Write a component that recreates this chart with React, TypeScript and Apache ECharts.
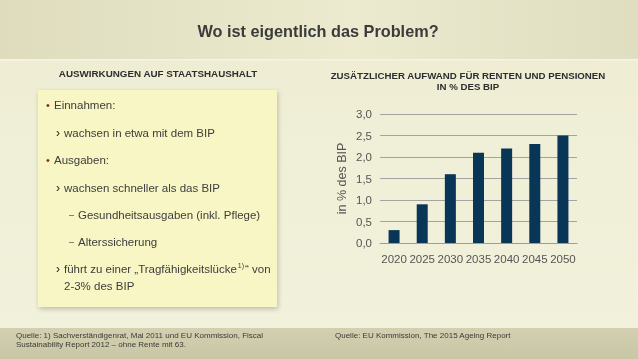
import React, { useEffect, useRef } from "react";
import * as echarts from "echarts";

const years = ["2020", "2025", "2030", "2035", "2040", "2045", "2050"];
const aufwand = [0.3, 0.9, 1.6, 2.1, 2.2, 2.3, 2.5];
const yTicks = { min: 0, max: 3, interval: 0.5 };

const pageTitle = "Wo ist eigentlich das Problem?";
const leftHeading = "AUSWIRKUNGEN AUF STAATSHAUSHALT";
const chartTitle = ["ZUSÄTZLICHER AUFWAND FÜR RENTEN UND PENSIONEN", "IN % DES BIP"];
const yAxisName = "in % des BIP";
const footLeft = [
  "Quelle: 1) Sachverständigenrat, Mai 2011 und EU Kommission, Fiscal",
  "Sustainability Report 2012 – ohne Rente mit 63.",
];
const footRight = "Quelle: EU Kommission, The 2015 Ageing Report";

const FONT = '"Liberation Sans", Arial, sans-serif';
const TXT = "#3d3d3d";

export default function App() {
  const ref = useRef<HTMLDivElement>(null);
  useEffect(() => {
    if (!ref.current) return;
    const chart = echarts.init(ref.current, undefined, { renderer: "svg" });

    const t = (text: string, x: number, y: number, size: number, extra: any = {}) => ({
      type: "text",
      x,
      y,
      z: 10,
      style: {
        text,
        fontSize: size,
        fontFamily: FONT,
        fill: TXT,
        textVerticalAlign: "middle",
        ...extra,
      },
    });

    const graphics: any[] = [
      {
        type: "rect",
        z: -10,
        shape: { x: 0, y: 0, width: 638, height: 359 },
        style: {
          fill: new echarts.graphic.LinearGradient(0, 0, 0, 1, [
            { offset: 0, color: "#eeedd3" },
            { offset: 1, color: "#f2f1dc" },
          ]),
        },
      },
      {
        type: "rect",
        z: -9,
        shape: { x: 0, y: 0, width: 638, height: 59 },
        style: {
          fill: new echarts.graphic.LinearGradient(0, 0, 1, 0, [
            { offset: 0, color: "#dedcbd" },
            { offset: 0.45, color: "#eae8cb" },
            { offset: 0.55, color: "#eceacf" },
            { offset: 1, color: "#e0dec0" },
          ]),
        },
      },
      {
        type: "rect",
        z: -8,
        shape: { x: 0, y: 59, width: 638, height: 1.5 },
        style: { fill: "#f6f5e4" },
      },
      {
        type: "rect",
        z: -9,
        shape: { x: 0, y: 328, width: 638, height: 31 },
        style: {
          fill: new echarts.graphic.LinearGradient(0, 0, 0, 1, [
            { offset: 0, color: "#d3d0b1" },
            { offset: 1, color: "#c9c6a6" },
          ]),
        },
      },
      {
        type: "rect",
        z: -5,
        shape: { x: 38, y: 90, width: 239, height: 217 },
        style: {
          fill: "#f8f6c4",
          shadowBlur: 5,
          shadowColor: "rgba(0,0,0,0.22)",
          shadowOffsetX: 1,
          shadowOffsetY: 2,
        },
      },
      t(pageTitle, 318, 31, 16.3, { fontWeight: "bold", textAlign: "center", fill: "#3b3b3b" }),
      t(leftHeading, 158, 73, 9.8, { fontWeight: "bold", textAlign: "center", fill: "#2e2e2e" }),
      t(chartTitle[0], 468, 75, 9.7, { fontWeight: "bold", textAlign: "center", fill: "#2e2e2e" }),
      t(chartTitle[1], 468, 86, 9.7, { fontWeight: "bold", textAlign: "center", fill: "#2e2e2e" }),
      // bullets
      t("•", 48, 105, 11, { textAlign: "center", fill: "#8a2c1c" }),
      t("Einnahmen:", 54, 105, 11.5),
      t("›", 58, 133, 12, { textAlign: "center", fill: "#222" }),
      t("wachsen in etwa mit dem BIP", 64, 133, 11.5),
      t("•", 48, 160, 11, { textAlign: "center", fill: "#8a2c1c" }),
      t("Ausgaben:", 54, 160, 11.5),
      t("›", 58, 188, 12, { textAlign: "center", fill: "#222" }),
      t("wachsen schneller als das BIP", 64, 188, 11.5),
      t("–", 69, 215, 9),
      t("Gesundheitsausgaben (inkl. Pflege)", 78, 215, 11.5),
      t("–", 69, 242, 9),
      t("Alterssicherung", 78, 242, 11.5),
      t("›", 58, 269, 12, { textAlign: "center", fill: "#222" }),
      {
        type: "text",
        x: 64,
        y: 269,
        z: 10,
        style: {
          text: "führt zu einer „Tragfähigkeitslücke{sup|1)}“ von",
          fontSize: 11.5,
          fontFamily: FONT,
          fill: TXT,
          textVerticalAlign: "middle",
          lineHeight: 14,
          rich: {
            sup: { fontSize: 7, fontFamily: FONT, fill: TXT, verticalAlign: "top", lineHeight: 14, padding: [0, 1, 0, 1] },
          },
        },
      },
      t("2-3% des BIP", 64, 286, 11.5),
      // footer
      t(footLeft[0], 16, 335, 8, { fill: "#3a3a35" }),
      t(footLeft[1], 16, 344, 8, { fill: "#3a3a35" }),
      t(footRight, 335, 335, 8, { fill: "#3a3a35" }),
    ];

    chart.setOption({
      animation: false,
      backgroundColor: "transparent",
      graphic: graphics,
      grid: { left: 380, right: 61, top: 114, bottom: 116 },
      xAxis: {
        type: "category",
        data: years,
        axisTick: { show: false },
        axisLine: { lineStyle: { color: "#9c9c9c", width: 1 } },
        axisLabel: { color: "#555", fontSize: 11.5, fontFamily: FONT, margin: 10, interval: 0 },
      },
      yAxis: {
        type: "value",
        min: yTicks.min,
        max: yTicks.max,
        interval: yTicks.interval,
        name: yAxisName,
        nameLocation: "middle",
        nameGap: 32,
        nameTextStyle: { color: "#555", fontSize: 12.5, fontFamily: FONT },
        axisLine: { show: false },
        axisTick: { show: false },
        splitLine: { lineStyle: { color: "#a3a3a3", width: 1 } },
        axisLabel: {
          color: "#555",
          fontSize: 11.5,
          fontFamily: FONT,
          margin: 8,
          formatter: (v: number) => v.toFixed(1).replace(".", ","),
        },
      },
      series: [
        {
          type: "bar",
          data: aufwand,
          barWidth: 11,
          itemStyle: { color: "#093657" },
        },
      ],
    });
    return () => chart.dispose();
  }, []);

  return (
    <div
      ref={ref}
      style={{ position: "fixed", left: 0, top: 0, width: 638, height: 359 }}
    />
  );
}
